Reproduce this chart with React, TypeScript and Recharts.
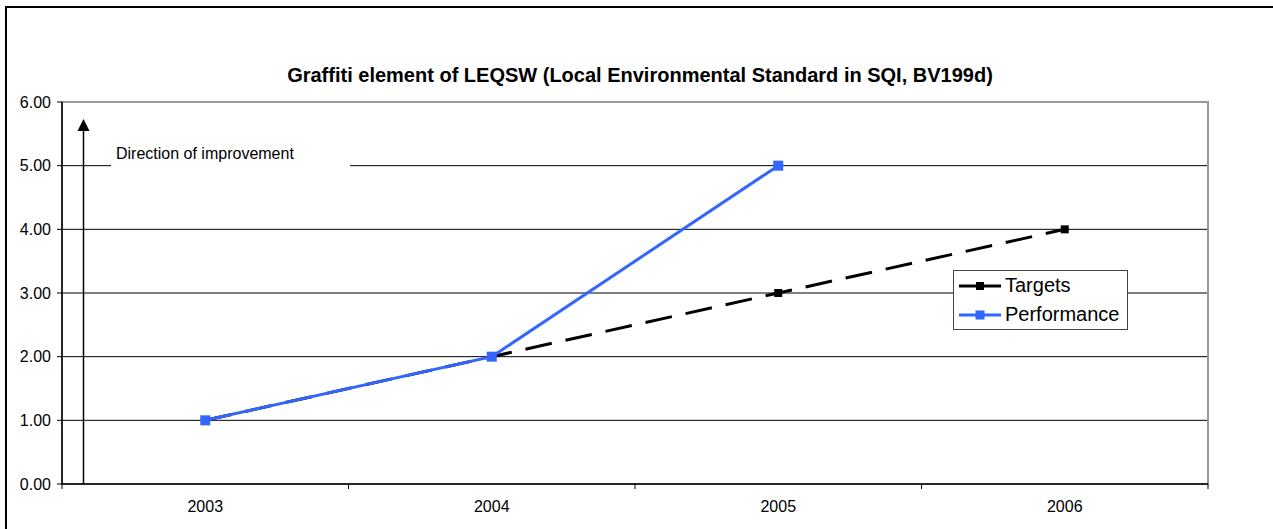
import React from "react";
import {
  LineChart,
  Line,
  XAxis,
  YAxis,
  CartesianGrid,
  ReferenceArea,
} from "recharts";

const years = [2003, 2004, 2005, 2006];
const targets = [1, 2, 3, 4];
const performance: (number | null)[] = [1, 2, 5, null];
const yTicks = [0, 1, 2, 3, 4, 5, 6];

const data = years.map((year, i) => ({
  year,
  targets: targets[i],
  performance: performance[i],
}));

const W = 1273;
const H = 529;
const MARGIN = { top: 102, right: 65, bottom: 15, left: 0 };
const Y_AXIS_W = 62;
const PLOT_W = W - MARGIN.left - MARGIN.right - Y_AXIS_W;
const HALF_STEP = PLOT_W / (years.length * 2);

const xMin = years[0] - 0.5;
const xMax = years[years.length - 1] + 0.5;
const xTicks = [...years.map((y) => y - 0.5), xMax];

const FONT = "'Liberation Sans', Arial, sans-serif";
const BLUE = "#3366ff";

// category labels sit between the boundary tick marks, Excel style
function XTick(props: any) {
  const { x, y, payload } = props;
  if (payload.value >= xMax) return <g />;
  return (
    <text
      x={x + HALF_STEP}
      y={y}
      dy="0.71em"
      textAnchor="middle"
      fontSize={16}
      fontFamily={FONT}
      fill="#000"
    >
      {payload.value + 0.5}
    </text>
  );
}

function SquareDot(size: number, color: string) {
  return (props: any) => {
    const { cx, cy, index } = props;
    if (cx == null || cy == null) return <g key={index} />;
    return (
      <rect
        key={index}
        x={cx - size / 2}
        y={cy - size / 2}
        width={size}
        height={size}
        fill={color}
      />
    );
  };
}

function LegendBox() {
  const rows = [
    { name: "Targets", color: "#000", sq: 8 },
    { name: "Performance", color: BLUE, sq: 9 },
  ];
  return (
    <div
      style={{
        position: "absolute",
        left: 953,
        top: 270,
        width: 175,
        height: 60,
        border: "1px solid #444",
        background: "#fff",
        fontFamily: FONT,
        fontSize: 20,
        paddingTop: 0,
        boxSizing: "border-box",
      }}
    >
      {rows.map((r) => (
        <div
          key={r.name}
          style={{ display: "flex", alignItems: "center", height: 29, lineHeight: "29px" }}
        >
          <svg width={46} height={14} style={{ marginLeft: 4, flex: "none" }}>
            <line x1={1} x2={43} y1={7} y2={7} stroke={r.color} strokeWidth={3} />
            <rect x={22 - r.sq / 2} y={7 - r.sq / 2} width={r.sq} height={r.sq} fill={r.color} />
          </svg>
          <span style={{ marginLeft: 1 }}>{r.name}</span>
        </div>
      ))}
    </div>
  );
}

export default function App() {
  return (
    <div
      style={{
        position: "fixed",
        left: 0,
        top: 0,
        width: W,
        height: H,
        overflow: "hidden",
        background: "#fff",
        fontFamily: FONT,
      }}
    >
      {/* outer frame */}
      <div
        style={{
          position: "absolute",
          left: 5,
          top: 6,
          width: 1400,
          height: 700,
          border: "2px solid #000",
        }}
      />
      <div
        style={{
          position: "absolute",
          left: 0,
          right: 0,
          top: 63,
          textAlign: "center",
          fontWeight: "bold",
          fontSize: 20,
          lineHeight: "24px",
          paddingLeft: 7,
        }}
      >
        Graffiti element of LEQSW (Local Environmental Standard in SQI, BV199d)
      </div>
      <div style={{ position: "absolute", left: 0, top: 0 }}>
        <LineChart width={W} height={H} data={data} margin={MARGIN}>
          <ReferenceArea
            x1={xMin}
            x2={xMax}
            y1={0}
            y2={6}
            fill="none"
            stroke="#999"
            strokeWidth={2}
            ifOverflow="visible"
          />
          <CartesianGrid vertical={false} stroke="#000" strokeWidth={1} />
          <XAxis
            dataKey="year"
            type="number"
            domain={[xMin, xMax]}
            ticks={xTicks}
            interval={0}
            tick={<XTick />}
            tickSize={5}
            tickMargin={12}
            height={30}
            stroke="#000"
            axisLine={{ stroke: "#000", strokeWidth: 1.5 }}
          />
          <YAxis
            domain={[0, 6]}
            ticks={yTicks}
            interval={0}
            width={Y_AXIS_W}
            tickFormatter={(v: number) => v.toFixed(2)}
            tick={{ fontSize: 16, fill: "#000", fontFamily: FONT }}
            tickSize={5}
            tickMargin={6}
            stroke="#000"
            axisLine={{ stroke: "#000", strokeWidth: 1.5 }}
          />
          <Line
            dataKey="targets"
            name="Targets"
            type="linear"
            stroke="#000"
            strokeWidth={3}
            strokeDasharray="27 14"
            dot={SquareDot(8, "#000")}
            activeDot={false}
            isAnimationActive={false}
          />
          <Line
            dataKey="performance"
            name="Performance"
            type="linear"
            stroke={BLUE}
            strokeWidth={3}
            dot={SquareDot(10, BLUE)}
            activeDot={false}
            connectNulls={false}
            isAnimationActive={false}
          />
        </LineChart>
      </div>
      <LegendBox />
      {/* direction-of-improvement annotation */}
      <svg
        width={W}
        height={H}
        style={{ position: "absolute", left: 0, top: 0, pointerEvents: "none" }}
      >
        <rect x={111} y={144} width={239} height={30} fill="#fff" />
        <line x1={83.5} x2={83.5} y1={484} y2={128} stroke="#000" strokeWidth={1.5} />
        <polygon points="83.5,119 77.5,131 89.5,131" fill="#000" />
        <text x={116} y={159} fontSize={16} fontFamily={FONT} fill="#000">
          Direction of improvement
        </text>
      </svg>
    </div>
  );
}
